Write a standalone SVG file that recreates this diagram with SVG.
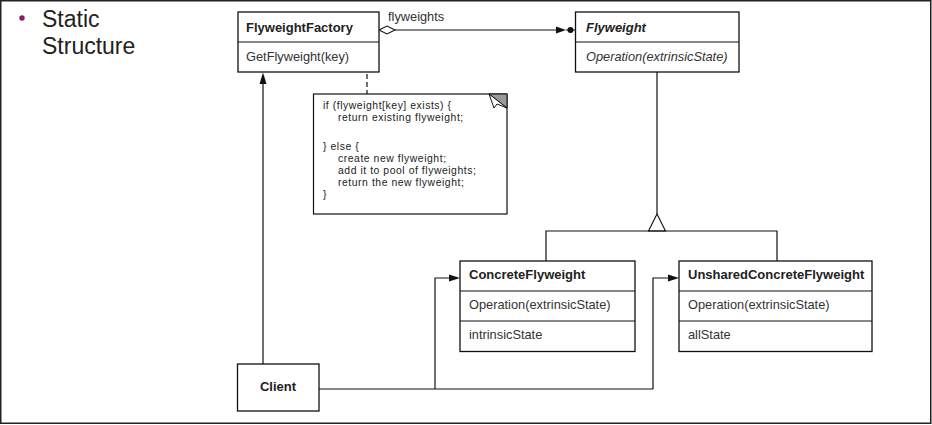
<svg xmlns="http://www.w3.org/2000/svg" width="932" height="425" viewBox="0 0 932 425">
<defs>
<style>
text{font-family:"Liberation Sans",Arial,Helvetica,sans-serif;fill:#222;}
.box{fill:#fff;stroke:#111;stroke-width:1.3;}
.ln{fill:none;stroke:#111;stroke-width:1.2;}
.t{font-size:13px;font-weight:bold;}
.m{font-size:12.8px;fill:#333;}
.n{font-size:10.4px;letter-spacing:0.55px;fill:#222;}
.head{fill:#111;stroke:none;}
</style>
</defs>
<rect x="0.75" y="0.75" width="930" height="422.5" fill="#fff" stroke="#222" stroke-width="1.5"/>
<g id="title">
<circle cx="22" cy="18" r="2.7" fill="#8a1a6a"/>
<text x="42" y="27" style="font-size:23px">Static</text>
<text x="42" y="54" style="font-size:23px">Structure</text>
</g>
<g id="connectors">
<path class="ln" d="M395,30 L557,30 M566,30 L575,30"/>
<path d="M379,30 L387,26 L395,30 L387,34 Z" fill="#fff" stroke="#111" stroke-width="1.1"/>
<polygon class="head" points="556,26.5 566,30 556,33.5"/>
<circle class="head" cx="570.5" cy="30" r="3"/>
<circle cx="367" cy="55" r="2.6" fill="#fff" stroke="#111" stroke-width="1.1"/>
<line x1="367" y1="58" x2="367" y2="94" stroke="#111" stroke-width="1.2" stroke-dasharray="5,3"/>
<line class="ln" x1="263" y1="364" x2="263" y2="83"/>
<polygon class="head" points="263,72.5 259.5,84 266.5,84"/>
<line class="ln" x1="657" y1="72" x2="657" y2="214"/>
<polygon points="657,214 648.5,231 665.5,231" fill="#fff" stroke="#111" stroke-width="1.1"/>
<path class="ln" d="M546,261 L546,231 L777,231 L777,261"/>
<path class="ln" d="M319,389 L653,389 M435,389 L435,278 L450,278 M653,389 L653,278 L669,278"/>
<polygon class="head" points="460,278 449,274.5 449,281.5"/>
<polygon class="head" points="679,278 668,274.5 668,281.5"/>
</g>
<g id="FlyweightFactory">
<rect class="box" x="238" y="12" width="141" height="60"/>
<line class="ln" x1="238" y1="42" x2="379" y2="42"/>
<text class="t" x="246" y="32">FlyweightFactory</text>
<text class="m" x="246" y="61">GetFlyweight(key)</text>
</g>
<text class="m" x="388" y="21">flyweights</text>
<g id="Flyweight">
<rect class="box" x="575.5" y="12" width="163.5" height="60"/>
<line class="ln" x1="575.5" y1="42" x2="739" y2="42"/>
<text class="t" x="586" y="32" font-style="italic">Flyweight</text>
<text class="m" x="586" y="61" font-style="italic">Operation(extrinsicState)</text>
</g>
<g id="note">
<rect x="313.5" y="94" width="193.5" height="120" fill="#fff" stroke="#111" stroke-width="1.2"/>
<polygon points="489,94 507,94 507,108" fill="#999" stroke="#111" stroke-width="1"/>
<polygon points="489,94 507,108 497,104 494,108" fill="#fff" stroke="#111" stroke-width="1"/>
<text class="n" x="323" y="109">if (flyweight[key] exists) {</text>
<text class="n" x="338" y="121">return existing flyweight;</text>
<text class="n" x="323" y="150">} else {</text>
<text class="n" x="338" y="162">create new flyweight;</text>
<text class="n" x="338" y="174">add it to pool of flyweights;</text>
<text class="n" x="338" y="186">return the new flyweight;</text>
<text class="n" x="323" y="198">}</text>
</g>
<g id="ConcreteFlyweight">
<rect class="box" x="460" y="261" width="175" height="90.5"/>
<line class="ln" x1="460" y1="291" x2="635" y2="291"/>
<line class="ln" x1="460" y1="321" x2="635" y2="321"/>
<text class="t" x="469" y="279">ConcreteFlyweight</text>
<text class="m" x="469" y="309">Operation(extrinsicState)</text>
<text class="m" x="469" y="339">intrinsicState</text>
</g>
<g id="UnsharedConcreteFlyweight">
<rect class="box" x="679" y="261" width="193" height="90.5"/>
<line class="ln" x1="679" y1="291" x2="872" y2="291"/>
<line class="ln" x1="679" y1="321" x2="872" y2="321"/>
<text class="t" x="688" y="279">UnsharedConcreteFlyweight</text>
<text class="m" x="688" y="309">Operation(extrinsicState)</text>
<text class="m" x="688" y="339">allState</text>
</g>
<g id="Client">
<rect class="box" x="237.5" y="364" width="81.5" height="47"/>
<text class="t" x="278" y="391" text-anchor="middle">Client</text>
</g>
</svg>
